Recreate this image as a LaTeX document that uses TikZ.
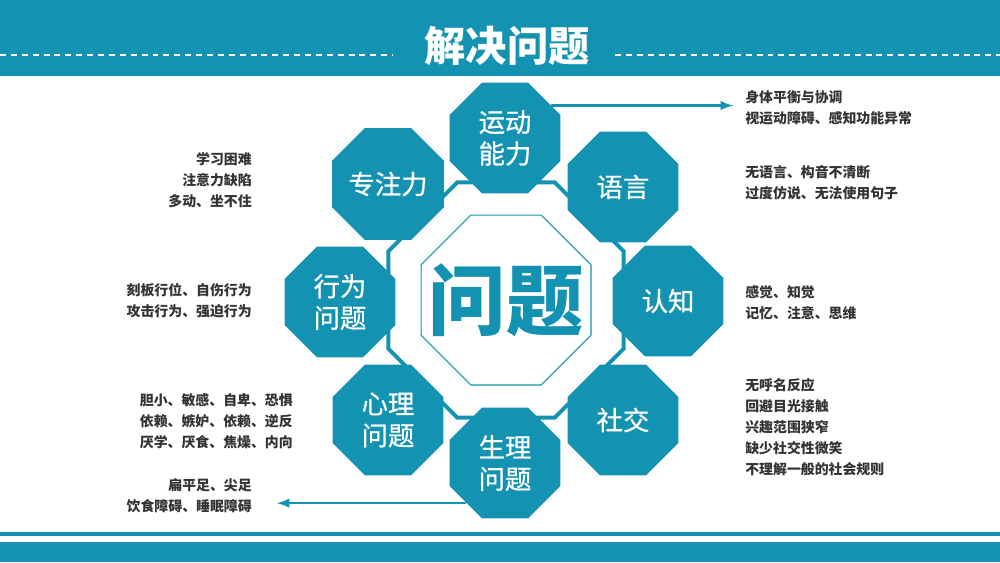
\documentclass[tikz,border=0pt]{standalone}
\usepackage{fontspec}
\setmainfont{Noto Sans CJK SC}
\newfontfamily\octafont[FakeBold=0.7]{Noto Sans CJK SC}
\usetikzlibrary{shapes.geometric,positioning}
\definecolor{qteal}{RGB}{20,146,177}
\definecolor{qgray}{RGB}{51,51,51}
\tikzset{
  octa/.style={regular polygon, regular polygon sides=8, minimum size=2.4cm,
    inner sep=0pt, fill=qteal, text=white, align=center,
    font=\octafont\fontsize{15}{18}\selectfont},
  note/.style={inner sep=0pt, text=qgray, font=\fontsize{7.9}{11.9}\selectfont\bfseries},
  notel/.style={note, anchor=east, align=right},
  noter/.style={note, anchor=west, align=left},
}
\begin{document}
\begin{tikzpicture}[>=latex, x=0.02cm, y=-0.02cm]
  \useasboundingbox (0,0) rectangle (1000,562);

  % header and footer
  \fill[qteal] (0,0) rectangle (1000,76);
  \draw[white, line width=0.85pt, dash pattern=on 3.4pt off 2.8pt] (0,55) -- (393,55);
  \draw[white, line width=0.85pt, dash pattern=on 3.4pt off 2.8pt] (615,55) -- (1000,55);
  \draw(507,46) node[text=white, font=\fontsize{23.5}{26}\selectfont\bfseries] (title) {解决问题};
  \draw[qteal, line width=2.2pt] (0,534) -- (1000,534);
  \fill[qteal] (0,542) rectangle (1000,562);

  % centre
  \draw(506,300) node[regular polygon, regular polygon sides=8, minimum size=4.16cm,
    draw=qteal, line width=2.2pt, text=qteal, font=\fontsize{44}{46}\selectfont\bfseries] (prob) {问题};
  \draw(506,300) node[regular polygon, regular polygon sides=8, minimum size=3.68cm,
    draw=qteal, line width=0.6pt] (probin) {};

  % octagons
  \draw(505,138) node[octa] (mov) {运动\\能力};
  \draw(623,187) node[octa] (lang) {语言};
  \draw(668,301) node[octa] (cog) {认知};
  \draw(623,420) node[octa] (soc) {社交};
  \draw(505,463) node[octa] (phy) {生理\\问题};
  \draw(388,420) node[octa] (psy) {心理\\问题};
  \draw(340,302) node[octa] (beh) {行为\\问题};
  \draw(388,184) node[octa] (att) {专注力};

  % notes
  \draw(745,108) node[noter] (nmov) {身体平衡与协调\\视运动障碍、感知功能异常};
  \draw(745,183) node[noter] (nlang) {无语言、构音不清断\\过度仿说、无法使用句子};
  \draw(745,303) node[noter] (ncog) {感觉、知觉\\记忆、注意、思维};
  \draw(745,427) node[noter] (nsoc) {无呼名反应\\回避目光接触\\兴趣范围狭窄\\缺少社交性微笑\\不理解一般的社会规则};
  \draw(252,180) node[notel] (natt) {学习困难\\注意力缺陷\\多动、坐不住};
  \draw(252,301) node[notel] (nbeh) {刻板行位、自伤行为\\攻击行为、强迫行为};
  \draw(293,421) node[notel] (npsy) {胆小、敏感、自卑、恐惧\\依赖、嫉妒、依赖、逆反\\厌学、厌食、焦燥、内向};
  \draw(252,496) node[notel] (nphy) {扁平足、尖足\\饮食障碍、睡眠障碍};

  \coordinate (tmov) at (733,106);
  \coordinate (tphy) at (277,503);
  \draw[->, qteal, line width=1.4pt] (mov.35) -- (mov.35 -| tmov);
  \draw[->, qteal, line width=1.4pt] (phy.226) -- (phy.226 -| tphy);

\end{tikzpicture}
\end{document}
